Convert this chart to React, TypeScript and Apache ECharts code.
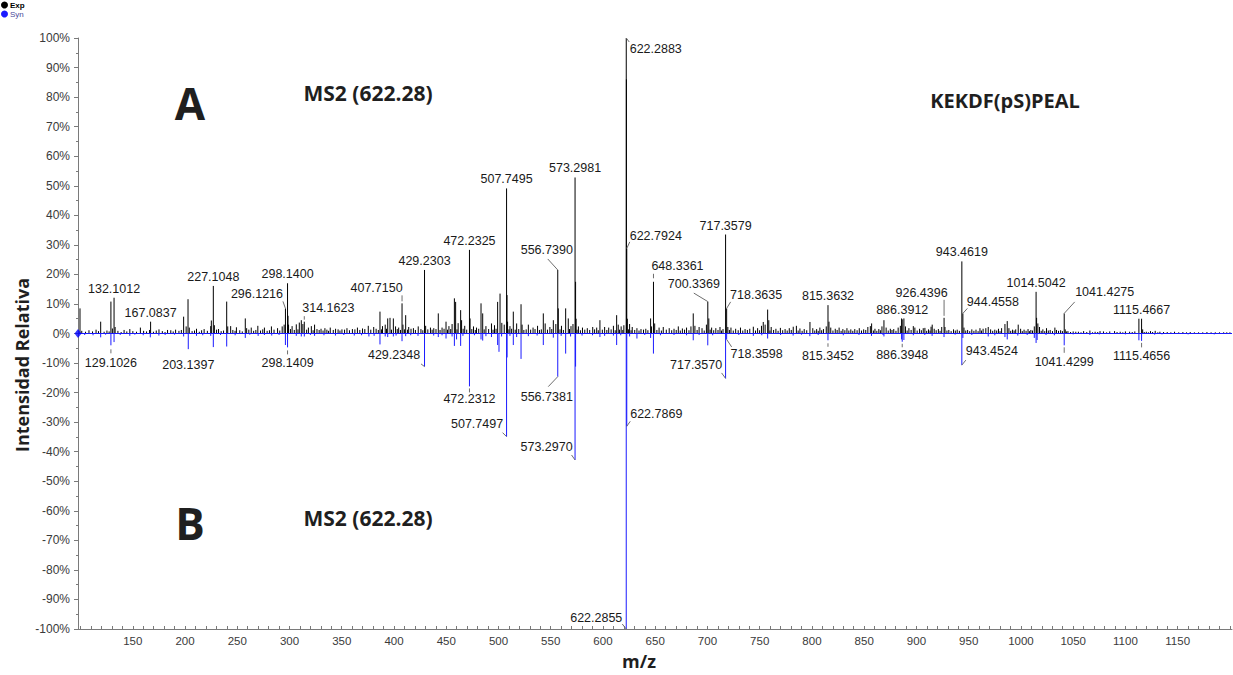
import React, { useEffect, useRef } from "react";
import * as echarts from "echarts";

type Peak = [number, number];

// m/z window of the plot
const MZ_MIN = 97.6;
const MZ_MAX = 1202;

const xTickLabels = [150, 200, 250, 300, 350, 400, 450, 500, 550, 600, 650, 700, 750, 800, 850, 900, 950, 1000, 1050, 1100, 1150];

// Experimental MS2 spectrum: [m/z, relative intensity %]
const expPeaks: Peak[] = [
  [99.5, 8.5], [119.3, 4.0], [129.1, 10.8], [130.5, 1.7], [132.1012, 12.1], [133.1, 2.2], [147.2, 1.5], [157.3, 2.0],
  [166.1, 1.2], [167.0837, 4.0], [175.1, 1.4], [183.3, 1.2], [191.0, 1.3], [198.7, 5.7], [201.1, 2.4], [202.9, 11.6],
  [204.1, 2.0], [211.0, 1.6], [218.3, 1.5], [224.6, 2.5], [225.2, 4.4], [227.1048, 16.1], [228.1, 2.8], [232.1, 1.5],
  [239.9, 10.8], [240.9, 2.4], [243.7, 2.5], [249.2, 2.1], [257.7, 5.1], [259.0, 1.8], [263.4, 2.0], [269.7, 2.6],
  [276.0, 2.0], [282.7, 2.4], [288.6, 1.8], [293.0, 2.4], [294.9, 3.0], [296.1216, 8.5], [298.14, 17.0], [298.6, 6.0],
  [299.1, 3.0], [302.5, 2.5], [306.5, 3.1], [309.4, 3.7], [311.3, 4.5], [312.8, 3.2], [314.1623, 4.0], [318.1, 2.0],
  [320.9, 2.5], [324.0, 3.0], [330.2, 1.6], [333.9, 1.8], [339.0, 2.0],
  [344.1, 1.6], [350.2, 1.4], [355.0, 1.8], [360.2, 1.5], [365.0, 2.0], [369.9, 1.7], [375.4, 2.6], [380.6, 2.2],
  [386.6, 7.4], [389.0, 2.5], [391.6, 3.0], [394.0, 5.1], [396.2, 5.3], [399.4, 5.1], [401.5, 2.4], [404.5, 2.0],
  [407.715, 10.2], [408.6, 3.0], [411.2, 6.2], [414.1, 2.2], [418.6, 1.8], [423.2, 2.4], [429.2303, 21.5], [430.3, 2.6],
  [434.9, 2.0], [438.1, 1.8], [442.4, 6.8], [446.0, 2.0], [449.8, 4.0], [452.6, 2.5], [455.6, 3.2], [457.8, 11.9],
  [459.0, 10.7], [461.4, 3.5], [463.8, 7.9], [464.7, 4.5], [467.7, 2.6], [472.2325, 28.3], [472.8, 5.1], [476.1, 2.4],
  [479.0, 2.0], [483.3, 10.2], [484.9, 6.8], [488.0, 2.5], [493.3, 3.4], [496.2, 2.8], [499.2, 10.7], [501.5, 13.5],
  [503.2, 3.6], [505.5, 3.0], [507.7495, 49.1], [508.2, 13.0], [508.7, 4.0], [511.0, 2.5], [514.2, 7.4], [517.4, 3.4],
  [521.6, 9.9], [522.6, 3.0], [528.6, 3.0], [533.1, 2.0], [537.4, 2.6], [542.9, 6.8], [544.7, 3.4], [549.2, 2.2],
  [552.5, 4.5], [554.9, 3.2], [556.739, 21.5], [557.24, 8.5], [560.3, 2.6], [564.3, 8.5], [566.8, 5.1], [569.4, 2.5],
  [571.3, 3.2], [573.2981, 52.8], [573.8, 17.5], [574.3, 5.0], [576.5, 2.4], [580.4, 2.0], [585.0, 1.8], [590.2, 2.2],
  [594.0, 2.0], [597.1, 4.5], [601.6, 2.2], [605.5, 2.0], [610.0, 2.6], [613.1, 6.2], [614.6, 3.0], [617.4, 2.4],
  [620.0, 2.8], [622.2883, 100], [622.45, 86.0], [622.7924, 28.8], [623.3, 5.0], [625.5, 3.2], [628.0, 2.2],
  [632.5, 1.8], [636.4, 1.5], [641.0, 1.6], [645.6, 5.1], [646.5, 2.4], [648.3361, 17.5], [649.5, 3.4], [653.7, 2.0],
  [657.7, 2.2], [663.4, 1.8], [668.0, 1.6], [672.1, 2.4], [676.0, 1.7], [680.0, 2.0], [684.2, 2.4], [686.4, 6.8],
  [688.0, 2.6], [692.0, 2.2], [694.8, 1.8], [699.0, 3.0], [700.3369, 10.8], [701.3, 5.1], [704.0, 2.0], [708.0, 1.8],
  [712.0, 2.2], [714.9, 1.5], [717.3579, 33.5], [718.3635, 8.5], [719.5, 2.2], [722.5, 2.0], [727.0, 1.6], [731.6, 2.0],
  [736.0, 1.5], [740.5, 1.6], [743.9, 2.3], [748.0, 1.8], [751.7, 2.6], [753.4, 3.9], [755.2, 3.0], [757.6, 8.1],
  [758.7, 4.5], [761.0, 2.2], [765.5, 1.6], [769.8, 1.9], [774.3, 1.5], [778.3, 1.8], [782.1, 2.3], [785.1, 2.6],
  [788.5, 1.7], [792.6, 1.5], [798.1, 3.9], [800.8, 1.8], [804.5, 1.5], [807.6, 2.0], [811.0, 1.5], [813.7, 2.4],
  [815.3632, 9.6], [816.3, 4.0], [818.0, 2.0], [822.3, 1.6], [826.0, 2.0], [829.6, 1.5], [833.5, 1.8], [837.2, 1.4],
  [841.0, 1.5], [845.3, 1.8], [849.5, 1.4], [853.5, 2.2], [855.9, 2.5], [857.1, 3.4], [860.3, 1.6], [864.0, 1.5],
  [867.0, 2.4], [868.9, 4.5], [871.0, 2.0], [875.0, 1.6], [878.3, 1.5], [882.5, 2.0], [884.6, 2.6], [885.8, 5.1],
  [886.3912, 4.8], [888.0, 5.1], [889.5, 2.4], [892.8, 1.8], [897.0, 2.5], [898.5, 2.0],
  [903.0, 1.6], [906.5, 1.8], [908.1, 1.9], [911.5, 1.4], [914.0, 2.3], [915.1, 3.0], [917.0, 1.6], [921.0, 1.5],
  [924.2, 2.2], [926.4396, 5.3], [927.3, 2.2], [931.0, 1.2], [935.5, 1.4], [939.0, 1.3], [943.4619, 24.4], [944.4558, 6.8],
  [945.5, 2.0], [949.0, 1.2], [953.0, 1.4], [957.0, 1.3], [960.8, 1.8], [963.8, 1.6], [966.4, 1.8], [968.7, 2.2],
  [971.0, 1.4], [975.0, 1.3], [978.5, 1.6], [981.5, 1.8], [984.7, 3.2], [986.9, 4.2], [988.5, 1.8], [992.0, 1.3],
  [995.0, 1.4], [997.4, 3.0], [999.7, 1.6], [1003.0, 1.3], [1006.8, 1.5], [1009.5, 1.2], [1012.8, 2.4], [1014.5042, 14.1],
  [1015.0, 5.3], [1016.2, 3.4], [1017.8, 2.2], [1021.0, 1.4], [1024.5, 1.8], [1028.0, 1.2], [1032.5, 2.0], [1034.0, 1.2],
  [1038.0, 1.1], [1041.4275, 6.8], [1042.4, 1.4], [1045.0, 0.8], [1050.0, 0.7], [1055.0, 0.6], [1060.0, 0.8], [1066.0, 1.0],
  [1071.0, 0.6], [1075.7, 0.8], [1079.0, 0.7], [1085.0, 0.7], [1089.6, 0.8], [1095.0, 0.6], [1100.0, 0.7], [1104.0, 0.6],
  [1109.0, 0.7], [1112.9, 5.0], [1115.4667, 5.0], [1116.5, 1.4], [1120.0, 0.6], [1124.0, 0.8], [1128.5, 0.9], [1133.0, 0.6],
  [1140.0, 0.5], [1147.0, 0.6], [1155.0, 0.5], [1162.0, 0.5], [1170.0, 0.4], [1178.0, 0.5], [1186.0, 0.4], [1194.0, 0.4],
  [1200.0, 0.4],
];

// Low-level background signal of the experimental spectrum
const expNoise: Peak[] = [
  [101.2, 0.9], [104.8, 0.6], [108.1, 1.1], [111.5, 0.7], [114.9, 1.3], [117.2, 0.8], [122.6, 0.6], [125.3, 1.0],
  [127.4, 0.7], [135.8, 0.9], [138.9, 0.5], [141.7, 1.2], [144.3, 0.7], [150.1, 0.8], [153.6, 0.6], [160.4, 0.9],
  [163.2, 0.7], [169.8, 0.6], [172.5, 1.0], [178.3, 0.8], [180.9, 0.5], [186.4, 1.1], [188.7, 0.7], [194.2, 0.9],
  [196.5, 1.2], [206.8, 0.8], [209.1, 1.0], [213.7, 0.6], [215.9, 1.1], [221.4, 0.9], [230.2, 1.3], [234.6, 0.8],
  [236.9, 1.0], [245.8, 1.2], [247.9, 0.9], [252.4, 1.1], [254.8, 0.7], [261.1, 1.3], [265.7, 0.9], [267.8, 1.2],
  [272.3, 1.0], [274.4, 1.4], [278.6, 0.9], [280.8, 1.1], [285.2, 1.3], [290.7, 1.0], [300.9, 1.5], [304.6, 1.2],
  [308.1, 1.4], [316.4, 1.3], [322.6, 1.1], [326.3, 1.5], [328.4, 1.2], [332.1, 1.0], [335.8, 1.3], [337.4, 0.9],
  [341.9, 1.2], [346.5, 1.4], [348.3, 1.0], [352.7, 1.3], [357.4, 1.1], [362.6, 1.4], [367.3, 1.2], [372.1, 1.5],
  [377.8, 1.3], [382.9, 1.6], [385.0, 1.2], [388.0, 1.4], [392.8, 1.6], [397.6, 1.3], [403.1, 1.5], [406.2, 1.2],
  [410.0, 1.4], [413.0, 1.3], [416.3, 1.6], [420.5, 1.2], [425.8, 1.5], [427.6, 1.1], [432.4, 1.4], [436.5, 1.3],
  [440.2, 1.5], [444.1, 1.2], [447.9, 1.6], [451.2, 1.3], [454.3, 1.5], [460.3, 1.4], [466.2, 1.6], [469.6, 1.3],
  [474.5, 1.5], [477.8, 1.2], [481.1, 1.6], [486.3, 1.4], [490.6, 1.5], [494.8, 1.3], [497.7, 1.6], [510.0, 1.4],
  [512.6, 1.6], [516.0, 1.3], [519.4, 1.5], [524.3, 1.2], [526.5, 1.4], [530.8, 1.3], [535.0, 1.5], [539.2, 1.2],
  [541.0, 1.4], [546.9, 1.3], [551.0, 1.5], [558.9, 1.4], [562.1, 1.2], [568.0, 1.5], [575.2, 1.3], [578.4, 1.1],
  [582.6, 1.3], [587.3, 1.2], [592.0, 1.4], [595.5, 1.1], [599.4, 1.3], [603.7, 1.2], [607.8, 1.4], [611.7, 1.1],
  [615.9, 1.3], [619.0, 1.2], [624.5, 1.4], [626.9, 1.1], [630.4, 1.2], [634.5, 1.0], [638.8, 1.3], [643.0, 1.1],
  [651.6, 1.2], [655.9, 1.0], [660.6, 1.3], [665.8, 1.1], [670.1, 1.2], [674.0, 1.0], [678.1, 1.3], [682.3, 1.1],
  [690.1, 1.2], [696.9, 1.0], [702.6, 1.3], [706.0, 1.1], [710.1, 1.2], [713.4, 1.0], [721.0, 1.2], [724.7, 1.0],
  [729.4, 1.1], [733.8, 1.0], [738.2, 1.2], [746.0, 1.0], [749.9, 1.1], [759.8, 1.0], [763.3, 1.2], [767.6, 0.9],
  [772.0, 1.1], [776.3, 1.0], [780.2, 1.2], [786.8, 1.0], [790.6, 0.9], [795.0, 1.1], [802.7, 1.0], [806.0, 0.9],
  [809.3, 1.1], [820.1, 1.0], [824.1, 1.2], [827.9, 0.9], [831.5, 1.1], [835.3, 1.0], [839.1, 0.9], [843.2, 1.1],
  [847.4, 1.0], [851.5, 1.2], [858.8, 1.0], [862.1, 0.9], [865.5, 1.1], [873.0, 1.0], [876.6, 1.2], [880.4, 0.9],
  [891.1, 1.0], [894.9, 1.2], [900.7, 1.0], [904.7, 1.1], [909.8, 0.9], [913.0, 1.0], [918.9, 1.1], [922.6, 0.9],
  [929.2, 1.0], [933.2, 0.8], [937.2, 1.0], [941.1, 0.9], [947.2, 1.0], [951.0, 0.8], [955.0, 0.9], [959.0, 0.8],
  [962.2, 1.0], [973.0, 0.9], [976.8, 1.0], [980.0, 0.8], [990.2, 0.9], [993.5, 1.0], [1001.3, 0.8], [1004.9, 0.9],
  [1008.1, 0.8], [1011.1, 1.0], [1019.4, 0.9], [1022.8, 0.8], [1026.2, 1.0], [1030.2, 0.8], [1036.0, 0.9], [1039.7, 0.8],
  [1043.5, 0.7], [1047.5, 0.5], [1052.5, 0.6], [1057.5, 0.4], [1063.0, 0.5], [1068.5, 0.4], [1073.5, 0.5], [1082.0, 0.4],
  [1092.0, 0.5], [1097.5, 0.4], [1106.5, 0.5], [1118.0, 0.5], [1122.0, 0.4], [1126.0, 0.5], [1131.0, 0.4], [1136.5, 0.5],
  [1143.5, 0.4], [1151.0, 0.4], [1158.5, 0.4], [1166.0, 0.4], [1174.0, 0.4], [1182.0, 0.4], [1190.0, 0.4], [1197.0, 0.4],
];

// Synthetic peptide MS2 spectrum, mirrored below zero
const synPeaks: Peak[] = [
  [119.3, -1.3], [129.1026, -4.0], [132.1, -2.9], [147.2, -0.8], [166.8, -1.3], [175.0, -0.7], [198.7, -1.0],
  [203.1397, -5.3], [211.0, -0.8], [227.1, -4.6], [239.9, -4.4], [257.7, -1.5], [270.0, -0.8], [296.1, -3.9],
  [298.1409, -4.7], [314.2, -1.0], [324.0, -0.8], [344.0, -0.7], [376.0, -1.0], [386.6, -3.7], [394.0, -1.2],
  [399.4, -1.0], [407.7, -2.6], [411.2, -0.9], [429.2348, -11.2], [449.8, -1.7], [457.8, -4.2], [459.9, -2.0],
  [463.8, -4.2], [472.2312, -17.9], [483.3, -2.0], [484.9, -2.4], [499.2, -3.9], [500.5, -6.2], [507.7497, -34.9],
  [508.25, -8.1], [514.2, -3.9], [521.6, -8.6], [542.9, -3.9], [556.7381, -14.6], [564.3, -6.8], [573.297, -42.8],
  [573.8, -11.2], [597.1, -1.2], [613.1, -3.9], [622.2855, -100], [622.7869, -31.4], [625.5, -1.0], [632.5, -1.7],
  [645.6, -1.5], [648.3, -6.8], [686.4, -2.3], [700.3, -4.0], [717.357, -15.2], [718.3598, -2.0], [743.9, -0.8],
  [757.6, -1.7], [782.0, -0.7], [798.0, -0.9], [815.3452, -2.3], [857.0, -0.8], [868.9, -1.0], [885.8, -2.0],
  [886.3948, -2.8], [888.0, -2.2], [915.0, -0.8], [926.4, -1.2], [943.4524, -10.7], [944.45, -1.5], [968.7, -1.0],
  [984.7, -1.2], [986.9, -2.0], [1012.8, -1.5], [1014.5, -3.2], [1015.5, -2.2], [1041.4299, -4.0], [1066.0, -0.5],
  [1112.9, -2.3], [1115.4656, -2.5], [1128.0, -0.4],
];

const synNoise: Peak[] = [
  [104, -0.5], [112, -0.6], [124, -0.4], [138, -0.5], [152, -0.4], [160, -0.6], [181, -0.5], [190, -0.4],
  [217, -0.6], [224.6, -0.8], [234, -0.5], [248, -0.6], [262, -0.4], [276, -0.5], [283, -0.7], [290, -0.5],
  [306.5, -0.8], [311.3, -1.0], [320, -0.5], [333, -0.6], [352, -0.5], [362, -0.7], [369, -0.6], [381, -0.8],
  [391.6, -1.0], [402, -0.7], [416, -0.6], [423, -0.8], [438, -0.7], [442.4, -1.2], [446, -0.6], [455.6, -1.0],
  [466, -0.8], [477, -0.6], [488, -0.9], [493.3, -1.2], [503, -1.0], [511, -0.8], [517.4, -1.2], [528.6, -0.9],
  [537, -0.7], [552.5, -1.4], [560, -0.8], [569, -1.0], [580, -0.7], [590, -0.6], [601.6, -0.8], [610, -0.7],
  [617, -0.6], [640, -0.5], [655, -0.6], [668, -0.5], [680, -0.6], [692, -0.5], [705, -0.6], [730, -0.5],
  [752, -0.6], [770, -0.5], [790, -0.4], [806, -0.5], [830, -0.6], [845, -0.5], [868, -0.5], [897, -0.6],
  [908, -0.5], [937, -0.4], [953, -0.5], [975, -0.6], [997, -0.7], [1006, -0.5], [1024, -0.5], [1032, -0.6],
  [1050, -0.3], [1075, -0.3], [1100, -0.3], [1135, -0.3], [1160, -0.3], [1185, -0.3],
];

// Annotated fragment masses
const expLabels = [
  "132.1012", "167.0837", "227.1048", "296.1216", "298.1400", "314.1623", "407.7150", "429.2303", "472.2325",
  "507.7495", "556.7390", "573.2981", "622.2883", "622.7924", "648.3361", "700.3369", "717.3579", "718.3635",
  "815.3632", "886.3912", "926.4396", "943.4619", "944.4558", "1014.5042", "1041.4275", "1115.4667",
];
const synLabels = [
  "129.1026", "203.1397", "298.1409", "429.2348", "472.2312", "507.7497", "556.7381", "573.2970", "622.7869",
  "622.2855", "717.3570", "718.3598", "815.3452", "886.3948", "943.4524", "1041.4299", "1115.4656",
];

// Label placement in pixels relative to the peak tip: text centre and optional leader segment
type Placement = { dx: number; dy: number; leader?: [number, number, number, number] };
const placement: Record<string, Placement> = {
  "132.1012": { dx: 0, dy: -9 },
  "167.0837": { dx: 0, dy: -9 },
  "227.1048": { dx: 0, dy: -9 },
  "296.1216": { dx: -28.5, dy: -14, leader: [0, 0, -2.5, -7] },
  "298.1400": { dx: 0, dy: -9 },
  "314.1623": { dx: 24, dy: -13.5, leader: [0, -2, 0, -5.5] },
  "407.7150": { dx: -25.5, dy: -15.8, leader: [0, -2, 0, -8] },
  "429.2303": { dx: 0, dy: -9 },
  "472.2325": { dx: 0, dy: -8.5 },
  "507.7495": { dx: 0, dy: -9 },
  "556.7390": { dx: -11, dy: -20, leader: [0, 0, -10, -11] },
  "573.2981": { dx: 0, dy: -9 },
  "622.2883": { dx: 29.5, dy: 11, leader: [0, 0, 3, 4] },
  "622.7924": { dx: 29, dy: -12.5, leader: [0, 0, 3, -6.5] },
  "648.3361": { dx: 24, dy: -16, leader: [0, -3.5, 0, -8] },
  "700.3369": { dx: -14, dy: -17.5, leader: [0, 0, -14, -8.5] },
  "717.3579": { dx: 0, dy: -9 },
  "718.3635": { dx: 29.5, dy: -13, leader: [0, 0, 4, -6.5] },
  "815.3632": { dx: 0, dy: -9 },
  "886.3912": { dx: 0, dy: -9 },
  "926.4396": { dx: -22.5, dy: -25, leader: [0, -2, 0, -18] },
  "943.4619": { dx: 0, dy: -9.5 },
  "944.4558": { dx: 30, dy: -11.5, leader: [0, 0, 4.5, -5] },
  "1014.5042": { dx: 0, dy: -9 },
  "1041.4275": { dx: 40.5, dy: -21.5, leader: [0, 0, 10.5, -11.5] },
  "1115.4667": { dx: 0, dy: -9 },
  "129.1026": { dx: 0, dy: 17.4, leader: [0, 4, 0, 8] },
  "203.1397": { dx: 0, dy: 15.5 },
  "298.1409": { dx: 0, dy: 16, leader: [0, 3, 0, 7] },
  "429.2348": { dx: -30.5, dy: -11.7, leader: [0, 0, -3.5, -2.7] },
  "472.2312": { dx: 0, dy: 12.6, leader: [0, 2, 0, 6] },
  "507.7497": { dx: -29.5, dy: -12.4, leader: [0, 0, -4, -4] },
  "556.7381": { dx: -11, dy: 20.6, leader: [0, 0, -9.5, 10] },
  "573.2970": { dx: -28.5, dy: -12.7, leader: [0, 0, -3.5, -5] },
  "622.7869": { dx: 29.5, dy: -12.7, leader: [0, 0, 3.5, -5] },
  "622.2855": { dx: -30, dy: -11, leader: [0, 0, -4, -5] },
  "717.3570": { dx: -29.5, dy: -13.3, leader: [0, 0, -4, -5.5] },
  "718.3598": { dx: 30, dy: 14.8, leader: [0, 0, 5, 7.5] },
  "815.3452": { dx: 0, dy: 15.7, leader: [0, 3, 0, 6.5] },
  "886.3948": { dx: 0, dy: 13.2, leader: [0, 2, 0, 5.5] },
  "943.4524": { dx: 30, dy: -14.3, leader: [0, 0, 4, -5] },
  "1041.4299": { dx: 0, dy: 17, leader: [0, 2, 0, 7.5] },
  "1115.4656": { dx: 0, dy: 14.8, leader: [0, 2, 0, 6.5] },
};

const EXP_COLOR = "#000000";
const SYN_COLOR = "#1a1aff";
const LABEL_FONT = "'Liberation Sans', Arial, sans-serif";
const AXIS_FONT = "'Liberation Sans Narrow', 'Liberation Sans', Arial, sans-serif";
const TITLE_FONT = "'Open Sans', 'Liberation Sans', sans-serif";

function stickSeries(name: string, data: Peak[], color: string) {
  return {
    type: "custom",
    name,
    data,
    silent: true,
    clip: true,
    itemStyle: { color },
    encode: { x: 0, y: 1 },
    renderItem: (_params: any, api: any) => {
      const mz = api.value(0);
      const v = api.value(1);
      const p0 = api.coord([mz, 0]);
      const p1 = api.coord([mz, v]);
      return {
        type: "line",
        shape: { x1: p0[0], y1: p0[1], x2: p1[0], y2: p1[1] },
        style: { stroke: color, lineWidth: 1 },
      };
    },
  };
}

function labelSeries(labels: string[], peaks: Peak[]) {
  const data = labels.map((t) => {
    const mz = parseFloat(t);
    const pk = peaks.find((p) => p[0] === mz);
    return [mz, pk ? pk[1] : 0];
  });
  return {
    type: "custom",
    data,
    silent: true,
    clip: false,
    z: 5,
    encode: { x: 0, y: 1 },
    renderItem: (params: any, api: any) => {
      const text = labels[params.dataIndex];
      const tip = api.coord([api.value(0), api.value(1)]);
      const pl = placement[text] || { dx: 0, dy: -9 };
      const children: any[] = [
        {
          type: "text",
          x: tip[0] + pl.dx,
          y: tip[1] + pl.dy,
          style: {
            text,
            fill: "#1a1a1a",
            fontSize: 12.5,
            fontFamily: LABEL_FONT,
            align: "center",
            verticalAlign: "middle",
          },
        },
      ];
      if (pl.leader) {
        const [a, b, c, d] = pl.leader;
        children.push({
          type: "line",
          shape: { x1: tip[0] + a, y1: tip[1] + b, x2: tip[0] + c, y2: tip[1] + d },
          style: { stroke: "#6e6e6e", lineWidth: 1 },
        });
      }
      return { type: "group", children };
    },
  };
}

function titleText(text: string, x: number, y: number, size: number, extra: any = {}) {
  return {
    type: "text",
    x,
    y,
    z: 10,
    silent: true,
    ...extra,
    style: {
      text,
      fill: "#1f1f1f",
      fontSize: size,
      fontWeight: "bold",
      fontFamily: TITLE_FONT,
      align: "center",
      verticalAlign: "middle",
      textAlign: "center",
      textVerticalAlign: "middle",
      ...(extra.style || {}),
    },
  };
}

function buildOption() {
  const xTicks: number[] = [];
  for (let v = 100; v <= 1200; v += 10) xTicks.push(v);
  const letterShadow = {
    style: { shadowBlur: 3, shadowColor: "rgba(0,0,0,0.45)", shadowOffsetX: 2, shadowOffsetY: 2 },
  };

  return {
    animation: false,
    backgroundColor: "#ffffff",
    grid: { left: 78, top: 38, width: 1154, height: 591, containLabel: false },
    legend: {
      left: 1,
      top: 1,
      orient: "vertical",
      itemWidth: 7,
      itemHeight: 7,
      itemGap: 1,
      padding: 0,
      selectedMode: false,
      textStyle: { fontSize: 8, fontFamily: LABEL_FONT, padding: [0, 0, 0, -3] },
      data: [
        { name: "Exp", icon: "circle", textStyle: { fontWeight: "bold", color: "#000" } },
        { name: "Syn", icon: "circle", textStyle: { color: "#4a4a9a" } },
      ],
    },
    xAxis: {
      type: "value",
      min: MZ_MIN,
      max: MZ_MAX,
      position: "bottom",
      axisLine: { onZero: false, lineStyle: { color: "#7a7a7a", width: 1 } },
      axisTick: { show: true, inside: true, length: 3, customValues: xTicks, lineStyle: { color: "#7a7a7a" } },
      axisLabel: {
        customValues: xTickLabels,
        formatter: (v: number) => String(Math.round(v)),
        fontSize: 11.5,
        fontFamily: AXIS_FONT,
        color: "#3a3a3a",
        margin: 6,
      },
      splitLine: { show: false },
    },
    yAxis: {
      type: "value",
      min: -100,
      max: 100,
      interval: 10,
      axisLine: { show: true, lineStyle: { color: "#7a7a7a", width: 1 } },
      axisTick: { show: true, length: 4, lineStyle: { color: "#7a7a7a" } },
      minorTick: { show: true, splitNumber: 2, length: 2, lineStyle: { color: "#7a7a7a" } },
      axisLabel: {
        formatter: "{value}%",
        fontSize: 12,
        fontFamily: AXIS_FONT,
        color: "#3a3a3a",
        margin: 8,
      },
      splitLine: { show: false },
    },
    graphic: [
      titleText("A", 190, 103, 44, letterShadow),
      titleText("MS2 (622.28)", 368, 93, 21),
      titleText("KEKDF(pS)PEAL", 1005, 100, 20),
      titleText("B", 190, 523, 44, letterShadow),
      titleText("MS2 (622.28)", 368, 518, 21),
      titleText("m/z", 639, 661, 18),
      titleText("Intensidad Relativa", 22, 365, 18, { rotation: Math.PI / 2 }),
    ],
    series: [
      {
        ...stickSeries("Syn", synPeaks.concat(synNoise), SYN_COLOR),
        markLine: {
          silent: true,
          symbol: "none",
          label: { show: false },
          lineStyle: { color: SYN_COLOR, width: 1, type: "solid" },
          data: [{ yAxis: 0 }],
        },
      },
      stickSeries("Exp", expPeaks.concat(expNoise), EXP_COLOR),
      labelSeries(expLabels, expPeaks),
      labelSeries(synLabels, synPeaks),
      {
        type: "scatter",
        name: "origin",
        data: [[MZ_MIN, 0]],
        symbol: "diamond",
        symbolSize: [7, 9],
        itemStyle: { color: "#0000ff" },
        clip: false,
        silent: true,
        z: 6,
      },
    ],
  };
}

export default function App() {
  const ref = useRef<HTMLDivElement>(null);
  useEffect(() => {
    if (!ref.current) return;
    const chart = echarts.init(ref.current, null, { renderer: "svg" });
    chart.setOption(buildOption() as any);
    return () => chart.dispose();
  }, []);
  return (
    <div
      ref={ref}
      style={{ position: "fixed", left: 0, top: 0, width: 1233, height: 675, background: "#ffffff" }}
    />
  );
}
